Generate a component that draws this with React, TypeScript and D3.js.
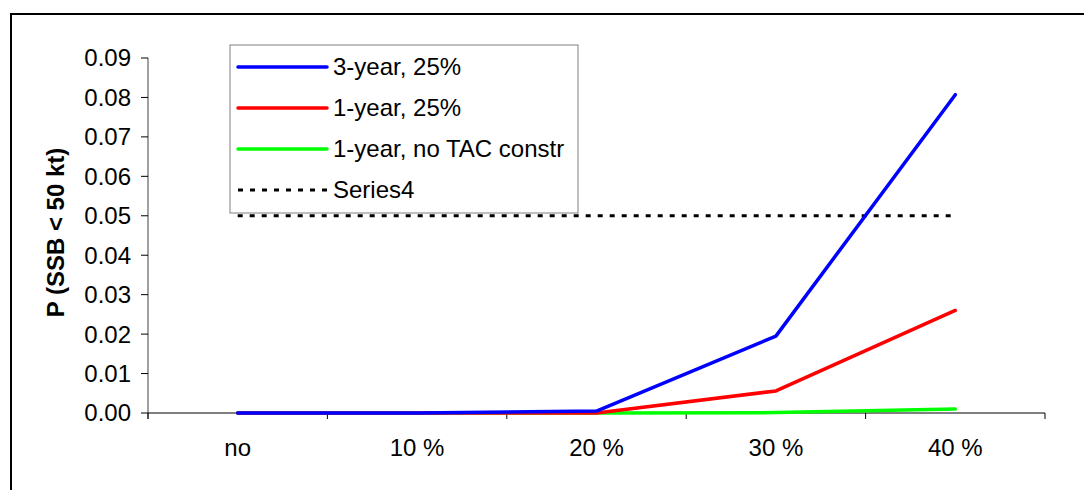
import React from "react";
import * as d3 from "d3";

const categories = ["no", "10 %", "20 %", "30 %", "40 %"];
const threeYear = [0, 0, 0.0005, 0.0195, 0.0807];
const oneYear = [0, 0, 0, 0.0056, 0.026];
const oneYearNoTac = [0, 0, 0, 0.0001, 0.001];
const series4 = [0.05, 0.05, 0.05, 0.05, 0.05];
const yTicks = [0, 0.01, 0.02, 0.03, 0.04, 0.05, 0.06, 0.07, 0.08, 0.09];
const seriesNames = ["3-year, 25%", "1-year, 25%", "1-year, no TAC constr", "Series4"];

const W = 1084;
const H = 490;
const left = 148;
const right = 1045;
const top = 58;
const bottom = 413;
const font = "'Liberation Sans', Arial, sans-serif";
const fs = 24;

export default function App() {
  const x = d3.scaleBand<string>().domain(categories).range([left, right]);
  const y = d3.scaleLinear().domain([0, 0.09]).range([bottom, top]);
  const cx = (c: string) => (x(c) as number) + x.bandwidth() / 2;
  const line = d3
    .line<number>()
    .x((_, i) => cx(categories[i]))
    .y((d) => y(d));

  const series = [
    { name: seriesNames[0], values: threeYear, color: "#0000ff", dash: undefined as string | undefined, w: 3.5 },
    { name: seriesNames[1], values: oneYear, color: "#ff0000", dash: undefined, w: 3.5 },
    { name: seriesNames[2], values: oneYearNoTac, color: "#00ff00", dash: undefined, w: 3.5 },
    { name: seriesNames[3], values: series4, color: "#000000", dash: "5,7", w: 3 },
  ];

  const xTickPos = [...categories.map((c) => x(c) as number), right];

  return (
    <svg width={W} height={H} style={{ position: "absolute", left: 0, top: 0, background: "#fff" }} fontFamily={font}>
      <rect x={0} y={0} width={W} height={H} fill="#fff" />
      {/* outer frame */}
      <rect x={11} y={14} width={W + 20} height={H + 20} fill="none" stroke="#000" strokeWidth={2} />

      {/* y axis */}
      <line x1={left} x2={left} y1={top} y2={bottom + 6} stroke="#808080" strokeWidth={1.5} />
      {yTicks.map((t) => (
        <g key={t}>
          <line x1={left - 7} x2={left} y1={y(t)} y2={y(t)} stroke="#000" strokeWidth={1} />
          <text x={131} y={y(t)} dy="0.35em" textAnchor="end" fontSize={fs} fill="#000">
            {t.toFixed(2)}
          </text>
        </g>
      ))}
      <text
        transform={`translate(56,${(top + bottom) / 2 - 3}) rotate(-90)`}
        textAnchor="middle"
        dy="0.35em"
        fontSize={fs}
        fontWeight="bold"
        fill="#000"
      >
        P (SSB &lt; 50 kt)
      </text>

      {/* x axis */}
      <line x1={left} x2={right} y1={bottom} y2={bottom} stroke="#000" strokeWidth={1} />
      {xTickPos.map((p, i) => (
        <line key={i} x1={p} x2={p} y1={bottom} y2={bottom + 6} stroke="#000" strokeWidth={1} />
      ))}
      {categories.map((c) => (
        <text key={c} x={cx(c)} y={448} textAnchor="middle" dy="0.35em" fontSize={fs} fill="#000">
          {c}
        </text>
      ))}

      {/* series */}
      {series
        .slice()
        .reverse()
        .map((s) => (
          <path
            key={s.name}
            d={line(s.values) as string}
            fill="none"
            stroke={s.color}
            strokeWidth={s.w}
            strokeDasharray={s.dash}
            strokeLinecap={s.dash ? "butt" : "round"}
            strokeLinejoin="round"
          />
        ))}

      {/* legend */}
      <rect x={230} y={45} width={348} height={168} fill="#fff" stroke="#808080" strokeWidth={1} />
      {series.map((s, i) => {
        const ly = 67 + i * 41;
        return (
          <g key={s.name}>
            <line
              x1={238}
              x2={327}
              y1={ly}
              y2={ly}
              stroke={s.color}
              strokeWidth={s.w}
              strokeDasharray={s.dash}
              strokeLinecap={s.dash ? "butt" : "round"}
            />
            <text x={333} y={ly} dy="0.35em" fontSize={fs} fill="#000">
              {s.name}
            </text>
          </g>
        );
      })}
    </svg>
  );
}
